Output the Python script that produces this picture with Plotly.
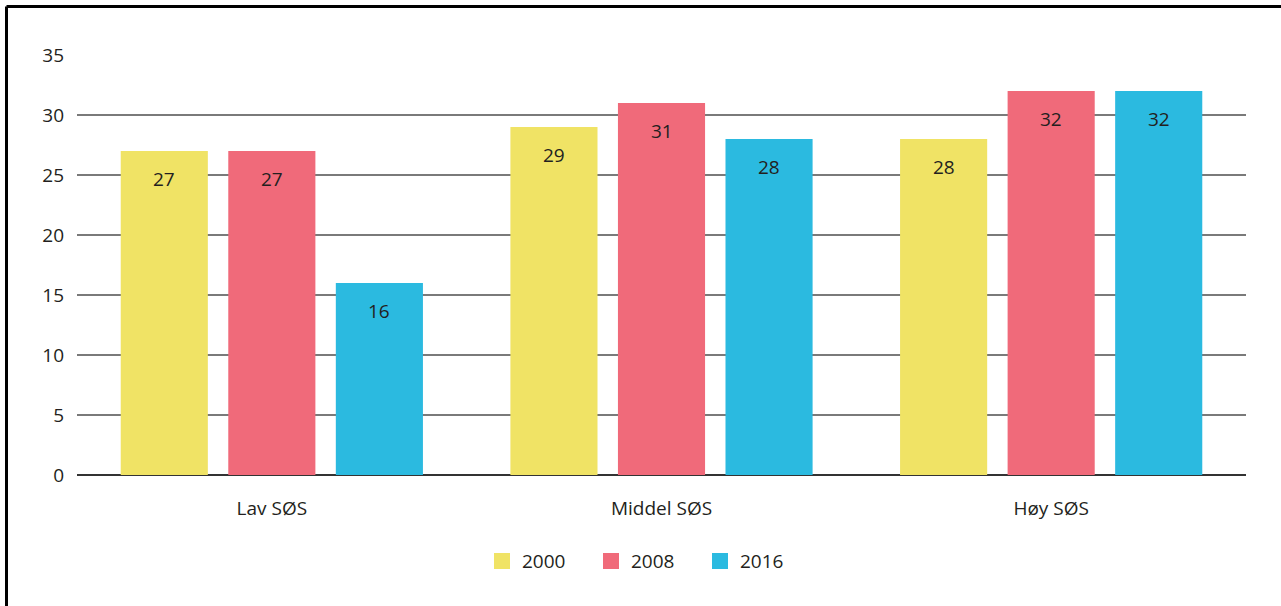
import plotly.graph_objects as go

categories = ["Lav SØS", "Middel SØS", "Høy SØS"]
series_names = ["2000", "2008", "2016"]
values_2000 = [27, 29, 28]
values_2008 = [27, 31, 32]
values_2016 = [16, 28, 32]
colors = ["#F0E365", "#F06A7A", "#2BBAE0"]
y_ticks = [0, 5, 10, 15, 20, 25, 30, 35]

W, H = 1281, 606
ml, mr, mt, mb = 77, 35, 55, 131
pw = W - ml - mr
ph = H - mt - mb

font_family = "Open Sans, Noto Sans, DejaVu Sans, sans-serif"
text_color = "#231F20"
FS = 19
bargap = 0.172
bargroupgap = 0.19

all_series = [values_2000, values_2008, values_2016]
fig = go.Figure()
for name, vals, col in zip(series_names, all_series, colors):
    fig.add_trace(go.Bar(
        x=categories, y=vals, name=name, showlegend=False,
        marker=dict(color=col, line=dict(width=0)),
    ))
# legend entries (square swatches)
for name, col in zip(series_names, colors):
    fig.add_trace(go.Scatter(
        x=[None], y=[None], name=name, mode="markers",
        marker=dict(symbol="square", size=16, color=col, line=dict(width=0)),
        showlegend=True, hoverinfo="skip",
    ))

# value labels, positioned through the category axis from the group geometry
n = len(all_series)
slot = (1 - bargap) / n
for j, vals in enumerate(all_series):
    off = (j - (n - 1) / 2) * slot
    for i, v in enumerate(vals):
        fig.add_annotation(x=i + off, y=v, xref="x", yref="y", text=str(v),
                           showarrow=False, yanchor="middle", yshift=-28,
                           font=dict(size=FS, color=text_color, family=font_family))

# frame lines (top and left)
bx0 = (6.5 - ml) / pw
by_top = 1 + (mt - 6.5) / ph
by_bot = -(H - mt - ph) / ph - 0.02
fig.add_shape(type="line", xref="paper", yref="paper", x0=bx0, x1=1 + mr / pw + 0.02,
              y0=by_top, y1=by_top, line=dict(color="black", width=3), layer="above")
fig.add_shape(type="line", xref="paper", yref="paper", x0=bx0, x1=bx0,
              y0=by_top, y1=by_bot, line=dict(color="black", width=3), layer="above")

fig.update_layout(
    width=W, height=H,
    margin=dict(l=ml, r=mr, t=mt, b=mb, autoexpand=False),
    paper_bgcolor="white", plot_bgcolor="white",
    barmode="group", bargap=bargap, bargroupgap=bargroupgap,
    font=dict(family=font_family, size=FS, color=text_color),
    xaxis=dict(type="category", showgrid=False, showline=False, ticks="", ticklabelstandoff=20,
               tickfont=dict(size=FS, color=text_color)),
    yaxis=dict(range=[0, 35], tickvals=y_ticks, showgrid=True, gridcolor="#7A7A7A", gridwidth=1.5,
               zeroline=True, zerolinecolor="#333333", zerolinewidth=1.5,
               showline=False, ticks="", ticklabelstandoff=12,
               tickfont=dict(size=FS, color=text_color)),
    legend=dict(orientation="h", x=0.5 - 16 / pw, xanchor="center", y=-0.16, yanchor="top",
                font=dict(size=FS, color=text_color), traceorder="normal",
                entrywidth=64, entrywidthmode="pixels", itemwidth=30, itemsizing="trace"),
    showlegend=True,
)

fig.write_html("out.html", config={"displayModeBar": False},
               post_script="document.body.style.margin='0px';")
